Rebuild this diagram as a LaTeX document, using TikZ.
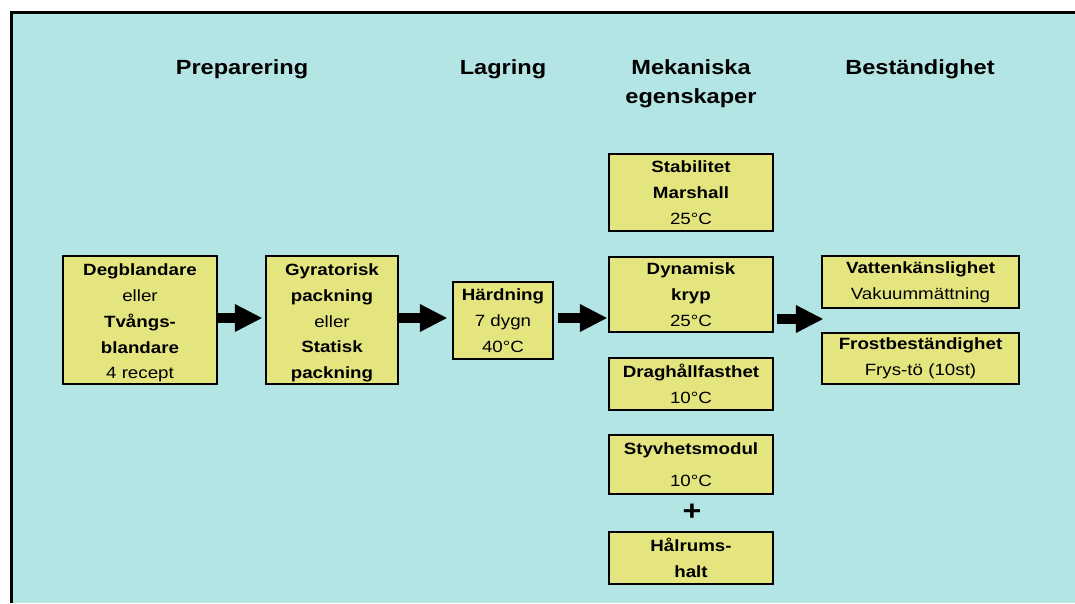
\documentclass[tikz,border=0pt]{standalone}
\usepackage{fontspec}
\setmainfont{Liberation Sans}[FakeStretch=1.15]
\usetikzlibrary{arrows.meta}
\definecolor{bg}{RGB}{179,229,229}
\definecolor{boxy}{RGB}{229,229,128}
\begin{document}
\begin{tikzpicture}[x=1pt,y=-1pt,
 box/.style={draw=black,line width=2.2pt,fill=boxy,align=center,inner sep=0pt,font=\fontsize{16.3}{25.7}\selectfont},
 hdr/.style={font=\fontsize{20.5}{29.5}\selectfont\bfseries,anchor=base},
 flow/.style={line width=10pt,-{Triangle[length=27pt,width=28pt,line width=0pt]}}]
\useasboundingbox (0,0) rectangle (1075,603);
\fill[bg] (11,12) rectangle (1075,603);
\draw[line width=3pt] (11,603) -- (11,12) -- (1075,12);
% headers
\node[hdr] (h1) at (242,74) {Preparering};
\node[hdr] (h2) at (503,74) {Lagring};
\node[hdr] (h3a) at (691,74) {Mekaniska};
\node[hdr] (h3b) at (691,103.5) {egenskaper};
\node[hdr] (h4) at (920,74) {Beständighet};
% boxes
\node[box,minimum width=154pt,minimum height=128pt] (deg) at (140,320) {\rule{0pt}{18pt}\textbf{Degblandare}\\eller\\\textbf{Tvångs-}\\\textbf{blandare}\\4 recept};
\node[box,minimum width=132pt,minimum height=128pt] (gyr) at (332,320) {\rule{0pt}{18pt}\textbf{Gyratorisk}\\\textbf{packning}\\eller\\\textbf{Statisk}\\\textbf{packning}};
\node[box,minimum width=100pt,minimum height=77pt] (hard) at (503,320.5) {\textbf{Härdning}\\7 dygn\\40°C};
\node[box,minimum width=164pt,minimum height=77pt] (stab) at (691,192.5) {\textbf{Stabilitet}\\\textbf{Marshall}\\25°C};
\node[box,minimum width=164pt,minimum height=75pt] (dyn) at (691,294.5) {\textbf{Dynamisk}\\\textbf{kryp}\\25°C};
\node[box,minimum width=164pt,minimum height=52pt] (drag) at (691,384) {\textbf{Draghållfasthet}\\10°C};
\node[box,minimum width=164pt,minimum height=59pt] (styv) at (691,464.5) {\textbf{Styvhetsmodul}\\[6pt]10°C};
\node[font=\fontsize{28}{28}\selectfont\bfseries] (plus) at (692,512) {+};
\node[box,minimum width=164pt,minimum height=52pt] (hal) at (691,558) {\textbf{Hålrums-}\\\textbf{halt}};
\node[box,minimum width=197pt,minimum height=52pt] (vat) at (920.5,282) {\textbf{Vattenkänslighet}\\Vakuummättning};
\node[box,minimum width=197pt,minimum height=51pt] (frost) at (920.5,358.5) {\textbf{Frostbeständighet}\\Frys-tö (10st)};
% arrows
\draw[flow,shorten >=3pt] (deg.east |- 0,318) -- (gyr.west |- 0,318);
\draw[flow,shorten >=5pt] (gyr.east |- 0,318) -- (hard.west |- 0,318);
\draw[flow,shorten <=4pt,shorten >=1pt] (hard.east |- 0,318) -- (dyn.west |- 0,318);
\draw[flow,shorten <=3pt,shorten >=-2pt] (dyn.east |- 0,319) -- (vat.west |- 0,319);
\end{tikzpicture}
\end{document}
